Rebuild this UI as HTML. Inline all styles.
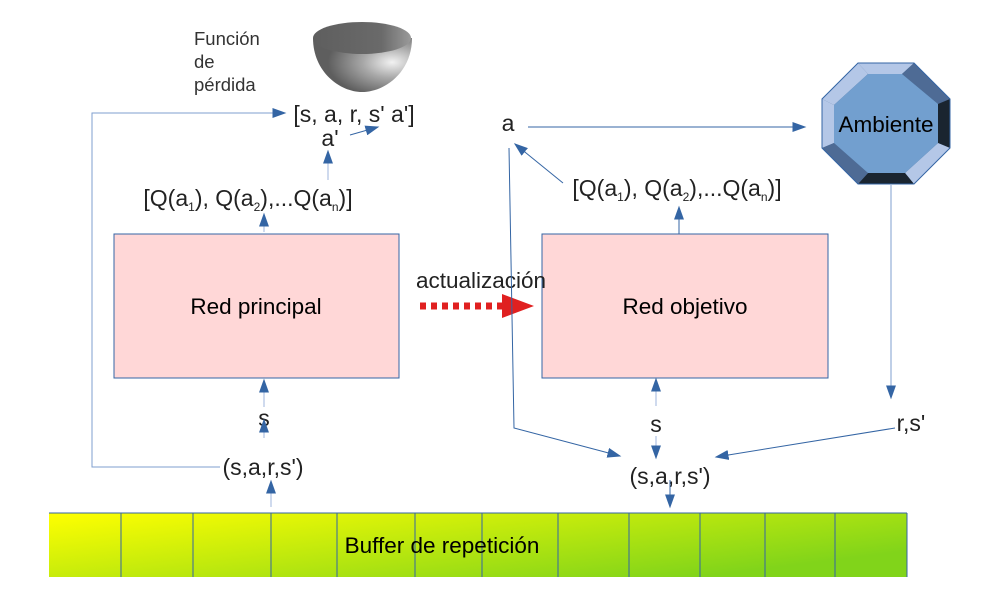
<!DOCTYPE html>
<html><head><meta charset="utf-8"><style>
body{margin:0;background:#fff}
svg{display:block;font-family:"Liberation Sans",sans-serif}
</style></head><body>
<svg width="1000" height="600" viewBox="0 0 1000 600" xmlns="http://www.w3.org/2000/svg">
<defs>
<marker id="ar" viewBox="0 0 10 10" refX="9" refY="5" markerWidth="14" markerHeight="10" orient="auto-start-reverse" markerUnits="userSpaceOnUse" preserveAspectRatio="none">
<path d="M0,0 L10,5 L0,10 z" fill="#3465a4"/></marker>
<linearGradient id="buf" x1="0" y1="0" x2="1" y2="0.6">
<stop offset="0" stop-color="#ffff00"/><stop offset="1" stop-color="#81d41a"/></linearGradient>
<radialGradient id="bowl" cx="0.8" cy="0.45" r="0.65">
<stop offset="0" stop-color="#f2f2f2"/><stop offset="0.45" stop-color="#a8a8a8"/><stop offset="1" stop-color="#5e5e5e"/></radialGradient>
<linearGradient id="rim" x1="0" y1="0" x2="1" y2="0">
<stop offset="0" stop-color="#5e5e5e"/><stop offset="0.7" stop-color="#6a6a6a"/><stop offset="1" stop-color="#9a9a9a"/></linearGradient>
</defs>

<!-- bowl -->
<path d="M313,38 C313,72 340,92 362,92 C385,92 412,72 412,38 Z" fill="url(#bowl)"/>
<ellipse cx="362" cy="38" rx="49" ry="16" fill="url(#rim)"/>

<text x="194" y="45" font-size="18.5" fill="#333">Función</text>
<text x="194" y="68" font-size="18.5" fill="#333">de</text>
<text x="194" y="91" font-size="18.5" fill="#333">pérdida</text>

<text x="354" y="122" font-size="23" text-anchor="middle" fill="#222">[s, a, r, s' a']</text>
<text x="330" y="146" font-size="23" text-anchor="middle" fill="#222">a'</text>
<text x="248" y="206" font-size="23" text-anchor="middle" fill="#222">[Q(a<tspan font-size="12" dy="5">1</tspan><tspan dy="-5">), Q(a</tspan><tspan font-size="12" dy="5">2</tspan><tspan dy="-5">),...Q(a</tspan><tspan font-size="12" dy="5">n</tspan><tspan dy="-5">)]</tspan></text>
<text x="677" y="196" font-size="23" text-anchor="middle" fill="#222">[Q(a<tspan font-size="12" dy="5">1</tspan><tspan dy="-5">), Q(a</tspan><tspan font-size="12" dy="5">2</tspan><tspan dy="-5">),...Q(a</tspan><tspan font-size="12" dy="5">n</tspan><tspan dy="-5">)]</tspan></text>
<text x="508" y="131" font-size="23" text-anchor="middle" fill="#222">a</text>

<!-- boxes -->
<rect x="114" y="234" width="285" height="144" fill="#ffd7d7" stroke="#3465a4" stroke-width="1"/>
<text x="256" y="314" font-size="22.5" text-anchor="middle" fill="#000">Red principal</text>
<rect x="542" y="234" width="286" height="144" fill="#ffd7d7" stroke="#3465a4" stroke-width="1"/>
<text x="685" y="314" font-size="22.5" text-anchor="middle" fill="#000">Red objetivo</text>

<text x="481" y="288" font-size="22.5" text-anchor="middle" fill="#222">actualización</text>
<line x1="420" y1="306" x2="502" y2="306" stroke="#e02020" stroke-width="7" stroke-dasharray="6,5"/>
<path d="M502,294 L534,306 L502,318 Z" fill="#e02020"/>

<!-- octagon -->
<polygon points="858,63 914,63 950,99 950,148 914,184 858,184 822,148 822,99" fill="#3d5f8a"/>
<polygon points="858,63 914,63 902,74 868,74" fill="#b4c7e7"/>
<polygon points="822,99 858,63 868,74 834,105" fill="#b4c7e7"/>
<polygon points="822,99 834,105 834,143 822,148" fill="#b4c7e7"/>
<polygon points="914,63 950,99 938,104 902,74" fill="#4e6b95"/>
<polygon points="950,99 950,148 938,143 938,104" fill="#1a2530"/>
<polygon points="950,148 914,184 905,173 938,143" fill="#b4c7e7"/>
<polygon points="914,184 858,184 868,173 905,173" fill="#1a2530"/>
<polygon points="858,184 822,148 834,143 868,173" fill="#4e6b95"/>
<polygon points="868,74 902,74 938,104 938,143 905,173 868,173 834,143 834,105" fill="#729fcf"/>
<polygon points="858,63 914,63 950,99 950,148 914,184 858,184 822,148 822,99" fill="none" stroke="#3465a4"/>
<text x="886" y="132" font-size="22.5" text-anchor="middle" fill="#000">Ambiente</text>

<!-- buffer -->
<rect x="49" y="513" width="858" height="64" fill="url(#buf)"/>
<line x1="49" y1="513" x2="907" y2="513" stroke="#3465a4"/>
<g stroke="#3465a4" stroke-width="1">
<line x1="121" y1="513" x2="121" y2="577"/><line x1="193" y1="513" x2="193" y2="577"/>
<line x1="271" y1="513" x2="271" y2="577"/><line x1="337" y1="513" x2="337" y2="577"/>
<line x1="415" y1="513" x2="415" y2="577"/><line x1="482" y1="513" x2="482" y2="577"/>
<line x1="558" y1="513" x2="558" y2="577"/><line x1="629" y1="513" x2="629" y2="577"/>
<line x1="700" y1="513" x2="700" y2="577"/><line x1="765" y1="513" x2="765" y2="577"/>
<line x1="835" y1="513" x2="835" y2="577"/><line x1="907" y1="513" x2="907" y2="577"/>
</g>
<text x="442" y="553" font-size="22.5" text-anchor="middle" fill="#000">Buffer de repetición</text>

<text x="264" y="426" font-size="23" text-anchor="middle" fill="#222">s</text>
<text x="263" y="475" font-size="23" text-anchor="middle" fill="#222">(s,a,r,s')</text>
<text x="656" y="432" font-size="23" text-anchor="middle" fill="#222">s</text>
<text x="670" y="484" font-size="23" text-anchor="middle" fill="#222">(s,a,r,s')</text>
<text x="911" y="431" font-size="23" text-anchor="middle" fill="#222">r,s'</text>

<!-- connectors -->
<g stroke="#3465a4" stroke-width="1" fill="none">
<path d="M220,467 L92,467 L92,113 L285,113" marker-end="url(#ar)" stroke="#7f9fcf"/>
<line x1="271" y1="507" x2="271" y2="481" marker-end="url(#ar)" stroke="#9fb6dc"/>
<line x1="264" y1="407" x2="264" y2="380" marker-end="url(#ar)" stroke="#9fb6dc"/>
<line x1="264" y1="438" x2="264" y2="420" marker-end="url(#ar)" stroke="#9fb6dc"/>
<line x1="264" y1="232" x2="264" y2="214" marker-end="url(#ar)" stroke="#9fb6dc"/>
<line x1="328" y1="180" x2="328" y2="151" marker-end="url(#ar)" stroke="#9fb6dc"/>
<line x1="350" y1="135" x2="378" y2="127" marker-end="url(#ar)"/>
<line x1="679" y1="234" x2="679" y2="207" marker-end="url(#ar)"/>
<line x1="563" y1="183" x2="515" y2="144" marker-end="url(#ar)"/>
<line x1="528" y1="127" x2="805" y2="127" marker-end="url(#ar)"/>
<path d="M509,148 L514,428 L620,456" marker-end="url(#ar)"/>
<line x1="656" y1="406" x2="656" y2="379" marker-end="url(#ar)" stroke="#9fb6dc"/>
<line x1="656" y1="436" x2="656" y2="458" marker-end="url(#ar)" stroke="#9fb6dc"/>
<line x1="891" y1="185" x2="891" y2="398" marker-end="url(#ar)" stroke="#7f9fcf"/>
<line x1="895" y1="428" x2="716" y2="457" marker-end="url(#ar)"/>
<line x1="670" y1="480" x2="670" y2="507" marker-end="url(#ar)"/>
</g>
</svg>
</body></html>
